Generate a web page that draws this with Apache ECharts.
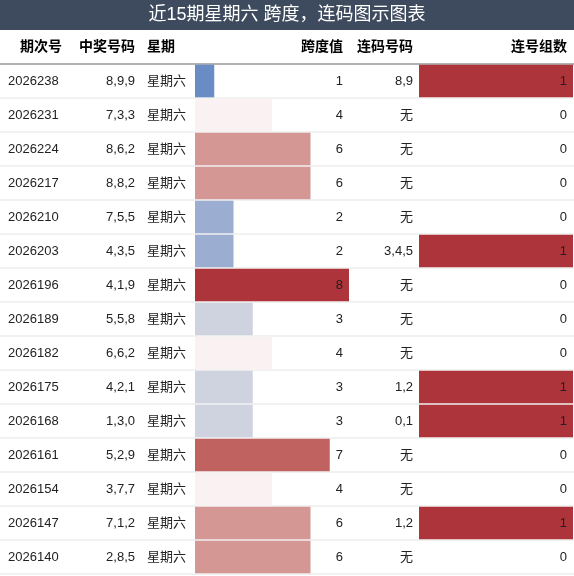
<!DOCTYPE html><html><head><meta charset="utf-8">
<script src="https://cdn.jsdelivr.net/npm/echarts@6/dist/echarts.min.js"></script>
<style>body{margin:0}#c{width:574px;height:576px}</style></head><body><div id="c"></div>
<script>
const issues=['2026238','2026231','2026224','2026217','2026210','2026203','2026196','2026189','2026182','2026175','2026168','2026161','2026154','2026147','2026140'];
const numbers=['8,9,9','7,3,3','8,6,2','8,8,2','7,5,5','4,3,5','4,1,9','5,5,8','6,6,2','4,2,1','1,3,0','5,2,9','3,7,7','7,1,2','2,8,5'];
const weekday='星期六';
const spans=[1,4,6,6,2,2,8,3,4,3,3,7,4,6,6];
const consec=['8,9','无','无','无','无','3,4,5','无','无','无','1,2','0,1','无','无','1,2','无'];
const groups=[1,0,0,0,0,1,0,0,0,1,1,0,0,1,0];
const headers=['期次号','中奖号码','星期','跨度值','连码号码','连号组数'];
const spanColors={0:'#3b66b0',1:'#6a8cc4',2:'#9badd0',3:'#cfd3e0',4:'#faf2f2',5:'#e8c4c2',6:'#d49794',7:'#c0625f',8:'#ad343a'};
const font='"Liberation Sans","Noto Sans CJK SC",sans-serif';
const gTop=64,rowH=34,n=issues.length,h=rowH*n;
const chart=echarts.init(document.getElementById('c'));
function cat(i){return {type:'category',data:issues,inverse:true,show:false,gridIndex:i};}
const hx=[8,135,147,343,413,567],ha=['left','right','left','right','right','right'];
chart.setOption({
 animation:false,
 grid:[{left:0,width:574,top:gTop,height:h},{left:195,width:154,top:gTop,height:h},{left:419,width:154,top:gTop,height:h}],
 xAxis:[{type:'value',min:0,max:1,show:false,gridIndex:0},{type:'value',min:0,max:8,show:false,gridIndex:1},{type:'value',min:0,max:1,show:false,gridIndex:2}],
 yAxis:[cat(0),cat(1),cat(2)],
 graphic:[
  {type:'rect',shape:{x:0,y:0,width:574,height:30},style:{fill:'#3e4b5e'}},
  {type:'text',x:287,y:15,style:{text:'近15期星期六 跨度，连码图示图表',fill:'#fff',font:'18px '+font,align:'center',verticalAlign:'middle'}},
  ...headers.map((t,i)=>({type:'text',x:i==0?20:hx[i],y:47,style:{text:t,fill:'#000',font:'bold 14px '+font,align:(i==0||i==2)?'left':'right',verticalAlign:'middle'}})),
  {type:'line',shape:{x1:0,y1:gTop,x2:574,y2:gTop},style:{stroke:'#999',lineWidth:1.5}}
 ],
 series:[
  {type:'custom',xAxisIndex:0,yAxisIndex:0,z:1,data:issues.map((d,i)=>[0,i]),
   renderItem:(p,api)=>{const y=api.coord([0,api.value(1)])[1];
     return {type:'line',shape:{x1:0,y1:y+rowH/2,x2:574,y2:y+rowH/2},style:{stroke:'#e4e4e4',lineWidth:1}};}},
  {type:'bar',xAxisIndex:1,yAxisIndex:1,barWidth:'96%',z:2,
   data:spans.map(v=>({value:v,itemStyle:{color:spanColors[v]}}))},
  {type:'bar',xAxisIndex:2,yAxisIndex:2,barWidth:'96%',z:2,
   data:groups.map(v=>({value:v,itemStyle:{color:'#ad343a'}}))},
  {type:'custom',xAxisIndex:0,yAxisIndex:0,z:5,data:issues.map((d,i)=>[0,i]),
   renderItem:(p,api)=>{const i=p.dataIndex;const y=api.coord([0,i])[1];
     const vals=[issues[i],numbers[i],weekday,String(spans[i]),consec[i],String(groups[i])];
     return {type:'group',children:vals.map((t,k)=>({type:'text',x:hx[k],y:y,style:{text:t,fill:'#222',font:'13px '+font,align:ha[k],verticalAlign:'middle'}}))};}}
 ]
});
</script></body></html>
